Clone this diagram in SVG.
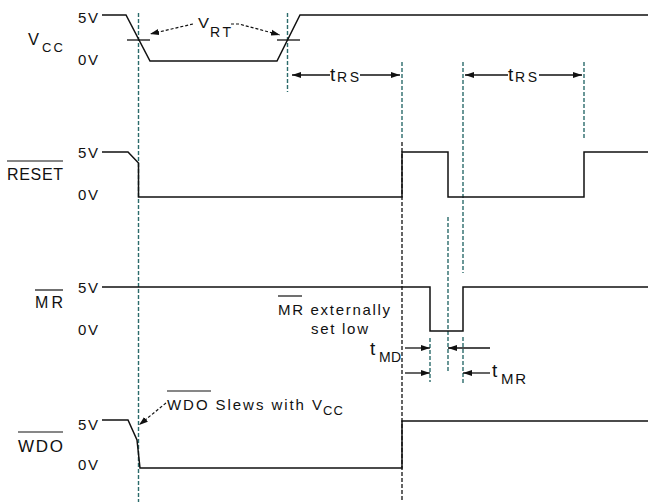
<svg xmlns="http://www.w3.org/2000/svg" width="648" height="502" viewBox="0 0 648 502">
<style>
.t{font-family:"Liberation Sans",Arial,sans-serif;fill:#111}
.lab{font-size:16px}
.v{font-size:15px}
.sub{font-size:14px}
.big{font-size:19px}
.wave{fill:none;stroke:#111;stroke-width:1.5}
.teal{fill:none;stroke:#2b6b6b;stroke-width:1.4;stroke-dasharray:4,2}
.bd{fill:none;stroke:#111;stroke-width:1.3;stroke-dasharray:4,2}
.dim{fill:none;stroke:#111;stroke-width:1.3}
.dd{fill:none;stroke:#111;stroke-width:1.2;stroke-dasharray:3,2}
.ol{stroke:#111;stroke-width:1.2}
</style>
<defs>
<marker id="ah" markerUnits="userSpaceOnUse" markerWidth="10" markerHeight="8" refX="9" refY="4" orient="auto">
<path d="M0,1 L9,4 L0,7 z" fill="#111"/>
</marker>
</defs>
<rect width="648" height="502" fill="#fff"/>

<g id="guides">
<line class="teal" x1="138.5" y1="13" x2="138.5" y2="502"/>
<line class="teal" x1="287.5" y1="13" x2="287.5" y2="92"/>
<line class="teal" x1="402" y1="62" x2="402" y2="140"/>
<line class="bd" x1="402" y1="142" x2="402" y2="502"/>
<line class="teal" x1="463" y1="62" x2="463" y2="273"/>
<line class="teal" x1="463" y1="337" x2="463" y2="385"/>
<line class="teal" x1="448" y1="217" x2="448" y2="373"/>
<line class="teal" x1="430" y1="338" x2="430" y2="382"/>
<line class="teal" x1="584" y1="62" x2="584" y2="138"/>
</g>

<g id="vcc">
<text class="t" x="28" y="45" font-size="17" textLength="11" lengthAdjust="spacingAndGlyphs">V</text>
<text class="t" x="42" y="52" font-size="13" textLength="21" lengthAdjust="spacing">CC</text>
<text class="t v" x="78" y="23" textLength="20">5V</text>
<text class="t v" x="78" y="65" textLength="20">0V</text>
<path class="wave" d="M102,15 H126 L150,61 H277 L300,15 H648"/>
<line class="dim" x1="127" y1="40" x2="150" y2="40"/>
<line class="dim" x1="277" y1="40" x2="300" y2="40"/>
</g>

<g id="reset">
<text class="t lab" x="7" y="180" textLength="56" lengthAdjust="spacing">RESET</text>
<line class="ol" x1="7" y1="161" x2="63" y2="161"/>
<text class="t v" x="78" y="158" textLength="20">5V</text>
<text class="t v" x="78" y="200" textLength="20">0V</text>
<path class="wave" d="M102,152 H128 L138.5,163 V197 H402 V152 H448 V197 H584 V152 H648"/>
</g>

<g id="mr">
<text class="t lab" x="35" y="308" textLength="28" lengthAdjust="spacing">MR</text>
<line class="ol" x1="35" y1="290" x2="63" y2="290"/>
<text class="t v" x="78" y="293" textLength="20">5V</text>
<text class="t v" x="78" y="335" textLength="20">0V</text>
<path class="wave" d="M102,287 H430 V331 H463 V287 H648"/>
</g>

<g id="wdo">
<text class="t" x="18" y="452" font-size="17" textLength="45" lengthAdjust="spacing">WDO</text>
<line class="ol" x1="18" y1="432" x2="63" y2="432"/>
<text class="t v" x="78" y="430" textLength="20">5V</text>
<text class="t v" x="78" y="470" textLength="20">0V</text>
<path class="wave" d="M102,420 H128 L137,440 L140,468 H402 V421 H648"/>
</g>

<g id="annotations">
<text class="t" x="198" y="28" font-size="14" textLength="11" lengthAdjust="spacingAndGlyphs">V</text>
<text class="t sub" x="210" y="37" textLength="21" lengthAdjust="spacing">RT</text>
<polyline class="dd" points="193,24 150,34" marker-end="url(#ah)"/>
<polyline class="dd" points="231,24 239,24 280,35" marker-end="url(#ah)"/>

<line class="dim" x1="330" y1="75" x2="292" y2="75" marker-end="url(#ah)"/>
<line class="dim" x1="360" y1="75" x2="400" y2="75" marker-end="url(#ah)"/>
<text class="t big" x="330" y="81">t</text>
<text class="t sub" x="337" y="82" textLength="22" lengthAdjust="spacing">RS</text>

<line class="dim" x1="508" y1="75" x2="465" y2="75" marker-end="url(#ah)"/>
<line class="dim" x1="539" y1="75" x2="582" y2="75" marker-end="url(#ah)"/>
<text class="t big" x="508" y="81">t</text>
<text class="t sub" x="515" y="82" textLength="22" lengthAdjust="spacing">RS</text>

<text class="t v" x="278" y="315" textLength="112" lengthAdjust="spacing">MR externally</text>
<line class="ol" x1="278" y1="296" x2="302" y2="296"/>
<text class="t v" x="311" y="334" textLength="57" lengthAdjust="spacing">set low</text>

<line class="dim" x1="405" y1="348" x2="430" y2="348" marker-end="url(#ah)"/>
<line class="dim" x1="490" y1="348" x2="448" y2="348" marker-end="url(#ah)"/>
<line class="dim" x1="405" y1="373" x2="430" y2="373" marker-end="url(#ah)"/>
<line class="dim" x1="490" y1="373" x2="463" y2="373" marker-end="url(#ah)"/>
<text class="t big" x="370" y="355">t</text>
<text class="t sub" x="379" y="362" textLength="22" lengthAdjust="spacing">MD</text>
<text class="t big" x="492" y="377">t</text>
<text class="t" x="501" y="384" font-size="15" textLength="25" lengthAdjust="spacing">MR</text>

<text class="t v" x="167" y="410" textLength="155" lengthAdjust="spacing">WDO Slews with V</text>
<line class="ol" x1="167" y1="391" x2="211" y2="391"/>
<text class="t" x="323" y="415" font-size="13" textLength="20" lengthAdjust="spacing">CC</text>
<polyline class="dd" points="166,403 139,425" marker-end="url(#ah)"/>
</g>
</svg>
